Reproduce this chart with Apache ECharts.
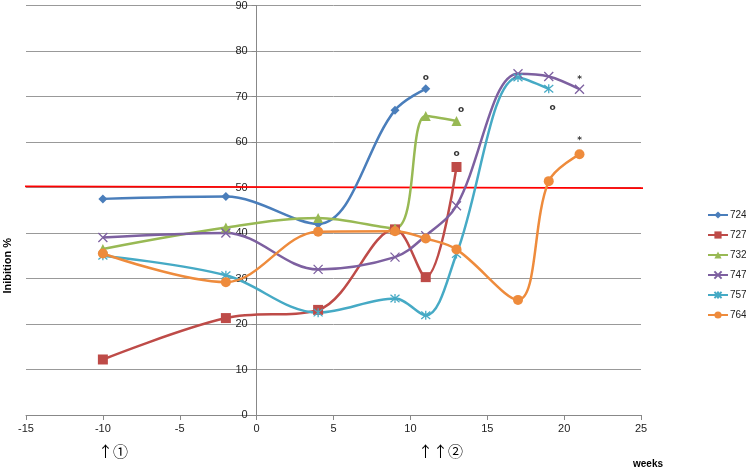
<!DOCTYPE html>
<html><head><meta charset="utf-8">
<script src="https://cdn.jsdelivr.net/npm/echarts@6/dist/echarts.min.js"></script>
<style>html,body{margin:0;padding:0;background:#fff}#c{width:746px;height:470px}</style>
</head><body><div id="c"></div>
<script>
const weeks724 = [-10, -2, 4, 9, 11];
const vals724 = [47.5, 48.0, 42.0, 67.0, 71.7];
const weeks727 = [-10, -2, 4, 9, 11, 13];
const vals727 = [12.2, 21.3, 23.1, 40.8, 30.3, 54.5];
const weeks732 = [-10, -2, 4, 9, 11, 13];
const vals732 = [36.5, 41.2, 43.3, 41.0, 65.7, 64.6];
const weeks747 = [-10, -2, 4, 9, 11, 13, 17, 19, 21];
const vals747 = [39.0, 40.0, 32.0, 34.7, 39.4, 46.0, 75.0, 74.4, 71.6];
const weeks757 = [-10, -2, 4, 9, 11, 13, 17, 19];
const vals757 = [35.0, 30.7, 22.5, 25.6, 21.9, 35.4, 74.2, 71.7];
const weeks764 = [-10, -2, 4, 9, 11, 13, 17, 19, 21];
const vals764 = [35.5, 29.2, 40.3, 40.4, 38.8, 36.4, 25.3, 51.4, 57.3];
const seriesNames = ['724', '727', '732', '747', '757', '764'];
const thresholdLine = [[-15.2, 50.25], [25.3, 49.85]];
const noteMarks = [[11, 74.1, 'o'], [13.3, 67.0, 'o'], [13.0, 57.4, 'o'], [21, 73.6, '*'], [19.25, 67.5, 'o'], [21, 60.3, '*']];
const xTicks = [-15, -10, -5, 0, 5, 10, 15, 20, 25];
const yTicks = [0, 10, 20, 30, 40, 50, 60, 70, 80, 90];

const colors = ['#4A7EBB', '#BE4B48', '#98B954', '#7D60A0', '#46AAC5', '#EE8B3C'];
const symbols = [
  'diamond', 'rect', 'triangle',
  'path://M0,0L10,10M10,0L0,10',
  'path://M0,0L10,10M10,0L0,10M5,-1L5,11',
  'circle'
];
const sizes = [9, 10, 10, 9, 9, 10];
const allX = [weeks724, weeks727, weeks732, weeks747, weeks757, weeks764];
const allY = [vals724, vals727, vals732, vals747, vals757, vals764];

const gridLeft = 26, gridRight = 105, W = 746;
const plotW = W - gridLeft - gridRight;
const zeroOffset = -plotW * (0 - xTicks[0]) / (xTicks[xTicks.length - 1] - xTicks[0]);

const series = seriesNames.map((n, i) => ({
  name: n, type: 'line', smooth: 0.35,
  data: allX[i].map((x, k) => [x, allY[i][k]]),
  symbol: symbols[i], symbolSize: sizes[i],
  showAllSymbol: true,
  lineStyle: { color: colors[i], width: 2.5 },
  itemStyle: i === 3 || i === 4
    ? { color: 'rgba(0,0,0,0)', borderColor: colors[i], borderWidth: 1.3 }
    : { color: colors[i], borderColor: colors[i], borderWidth: 0 },
  emphasis: { disabled: true },
  z: 3
}));
series.push({
  name: 'threshold', type: 'line', data: thresholdLine, symbol: 'none', clip: false,
  lineStyle: { color: '#FF0000', width: 1.8 }, z: 2, silent: true
});
series.push({
  name: 'notes', type: 'scatter', symbolSize: 0,
  data: noteMarks.map(d => ({ value: [d[0], d[1]], label: { formatter: d[2] } })),
  label: { show: true, position: 'inside', color: '#000', fontSize: 9, fontWeight: 'bold', fontFamily: 'DejaVu Sans' },
  z: 4, silent: true
});

const chart = echarts.init(document.getElementById('c'), null, { renderer: 'canvas' });
chart.setOption({
  animation: false,
  backgroundColor: '#fff',
  grid: { left: gridLeft, right: gridRight, top: 4, bottom: 55 },
  xAxis: {
    type: 'value', min: xTicks[0], max: xTicks[xTicks.length - 1], interval: 5,
    axisLine: { onZero: false, lineStyle: { color: '#888', width: 1 } },
    axisTick: { show: true, length: 5, lineStyle: { color: '#888' } },
    axisLabel: { color: '#222', fontSize: 11, fontFamily: 'Liberation Sans', margin: 8 },
    splitLine: { show: false }
  },
  yAxis: {
    type: 'value', min: yTicks[0], max: yTicks[yTicks.length - 1], interval: 10,
    position: 'left', offset: zeroOffset,
    axisLine: { show: true, onZero: false, lineStyle: { color: '#888', width: 1 } },
    axisTick: { show: true, length: 5, lineStyle: { color: '#888' } },
    axisLabel: { color: '#222', fontSize: 11, fontFamily: 'Liberation Sans', margin: 9 },
    splitLine: { show: true, lineStyle: { color: '#999', width: 1 } }
  },
  legend: {
    data: seriesNames, orient: 'vertical', left: 702, top: 205,
    itemWidth: 20, itemHeight: 9, itemGap: 10,
    textStyle: { color: '#222', fontSize: 10, fontFamily: 'Liberation Sans', padding: [0, 0, 0, -3] },
    selectedMode: false
  },
  graphic: [
    { type: 'text', x: 2, y: 238, rotation: Math.PI / 2,
      style: { text: 'Inibition %', font: 'bold 11px "Liberation Sans"', fill: '#000', align: 'right', verticalAlign: 'top' } },
    { type: 'text', x: 98, y: 444,
      style: { text: '↑①', font: '15px "Noto Sans CJK JP"', fill: '#000' } },
    { type: 'text', x: 418, y: 444,
      style: { text: '↑↑②', font: '15px "Noto Sans CJK JP"', fill: '#000' } },
    { type: 'text', x: 633, y: 459,
      style: { text: 'weeks', font: 'bold 10px "Liberation Sans"', fill: '#000' } }
  ],
  series
});
</script></body></html>
